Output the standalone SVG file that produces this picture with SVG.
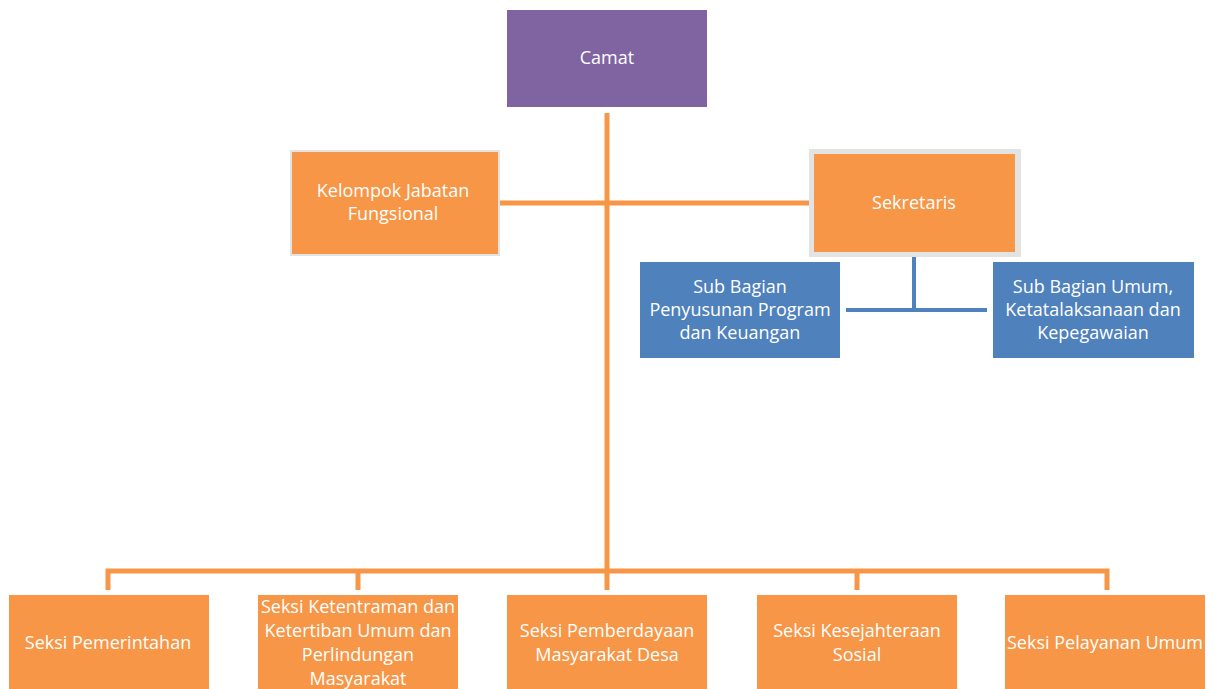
<svg xmlns="http://www.w3.org/2000/svg" width="1217" height="689" viewBox="0 0 1217 689">
<style>
.t{font-family:"Open Sans","Liberation Sans",sans-serif;font-size:18px;fill:#fff;text-anchor:middle;dominant-baseline:central}
.o{fill:#F79646}
.b{fill:#4F81BD}
.p{fill:#8064A2}
.oc{stroke:#F79646;stroke-width:5;fill:none}
.bc{stroke:#4F81BD;stroke-width:4;fill:none}
</style>
<rect width="1217" height="689" fill="#fff"/>
<g id="connectors">
<path class="oc" d="M607 113V571M500 203H809M108 590V571H1107V590M358 571V590M607 571V590M857 571V590"/>
<path class="bc" d="M914 257V310M846 310H987"/>
</g>
<g id="camat"><rect class="p" x="507" y="10" width="200" height="97"/><text class="t" x="607" y="57">Camat</text></g>
<g id="kelompok"><rect x="290" y="150" width="210" height="106" fill="#e3e3e3"/><rect class="o" x="292" y="152" width="206" height="102"/><text class="t" x="393" y="190">Kelompok Jabatan</text><text class="t" x="393" y="213">Fungsional</text></g>
<g id="sekretaris"><rect x="809" y="149" width="212" height="108" fill="#e3e3e3"/><rect class="o" x="814" y="154" width="201" height="98"/><text class="t" x="914" y="202">Sekretaris</text></g>
<g id="subprogram"><rect class="b" x="640" y="262" width="200" height="96"/><text class="t" x="740" y="286">Sub Bagian</text><text class="t" x="740" y="309">Penyusunan Program</text><text class="t" x="740" y="332">dan Keuangan</text></g>
<g id="subumum"><rect class="b" x="993" y="262" width="201" height="96"/><text class="t" x="1093" y="286">Sub Bagian Umum,</text><text class="t" x="1093" y="309">Ketatalaksanaan dan</text><text class="t" x="1093" y="332">Kepegawaian</text></g>
<g id="pemerintahan"><rect class="o" x="9" y="595" width="200" height="94"/><text class="t" x="108" y="642">Seksi Pemerintahan</text></g>
<g id="ketentraman"><rect class="o" x="258" y="595" width="200" height="94"/><text class="t" x="358" y="606">Seksi Ketentraman dan</text><text class="t" x="358" y="630">Ketertiban Umum dan</text><text class="t" x="358" y="654">Perlindungan</text><text class="t" x="358" y="678">Masyarakat</text></g>
<g id="pemberdayaan"><rect class="o" x="507" y="595" width="200" height="94"/><text class="t" x="607" y="630">Seksi Pemberdayaan</text><text class="t" x="607" y="654">Masyarakat Desa</text></g>
<g id="kesejahteraan"><rect class="o" x="757" y="595" width="200" height="94"/><text class="t" x="857" y="630">Seksi Kesejahteraan</text><text class="t" x="857" y="654">Sosial</text></g>
<g id="pelayanan"><rect class="o" x="1005" y="595" width="200" height="94"/><text class="t" x="1105" y="642">Seksi Pelayanan Umum</text></g>
</svg>
